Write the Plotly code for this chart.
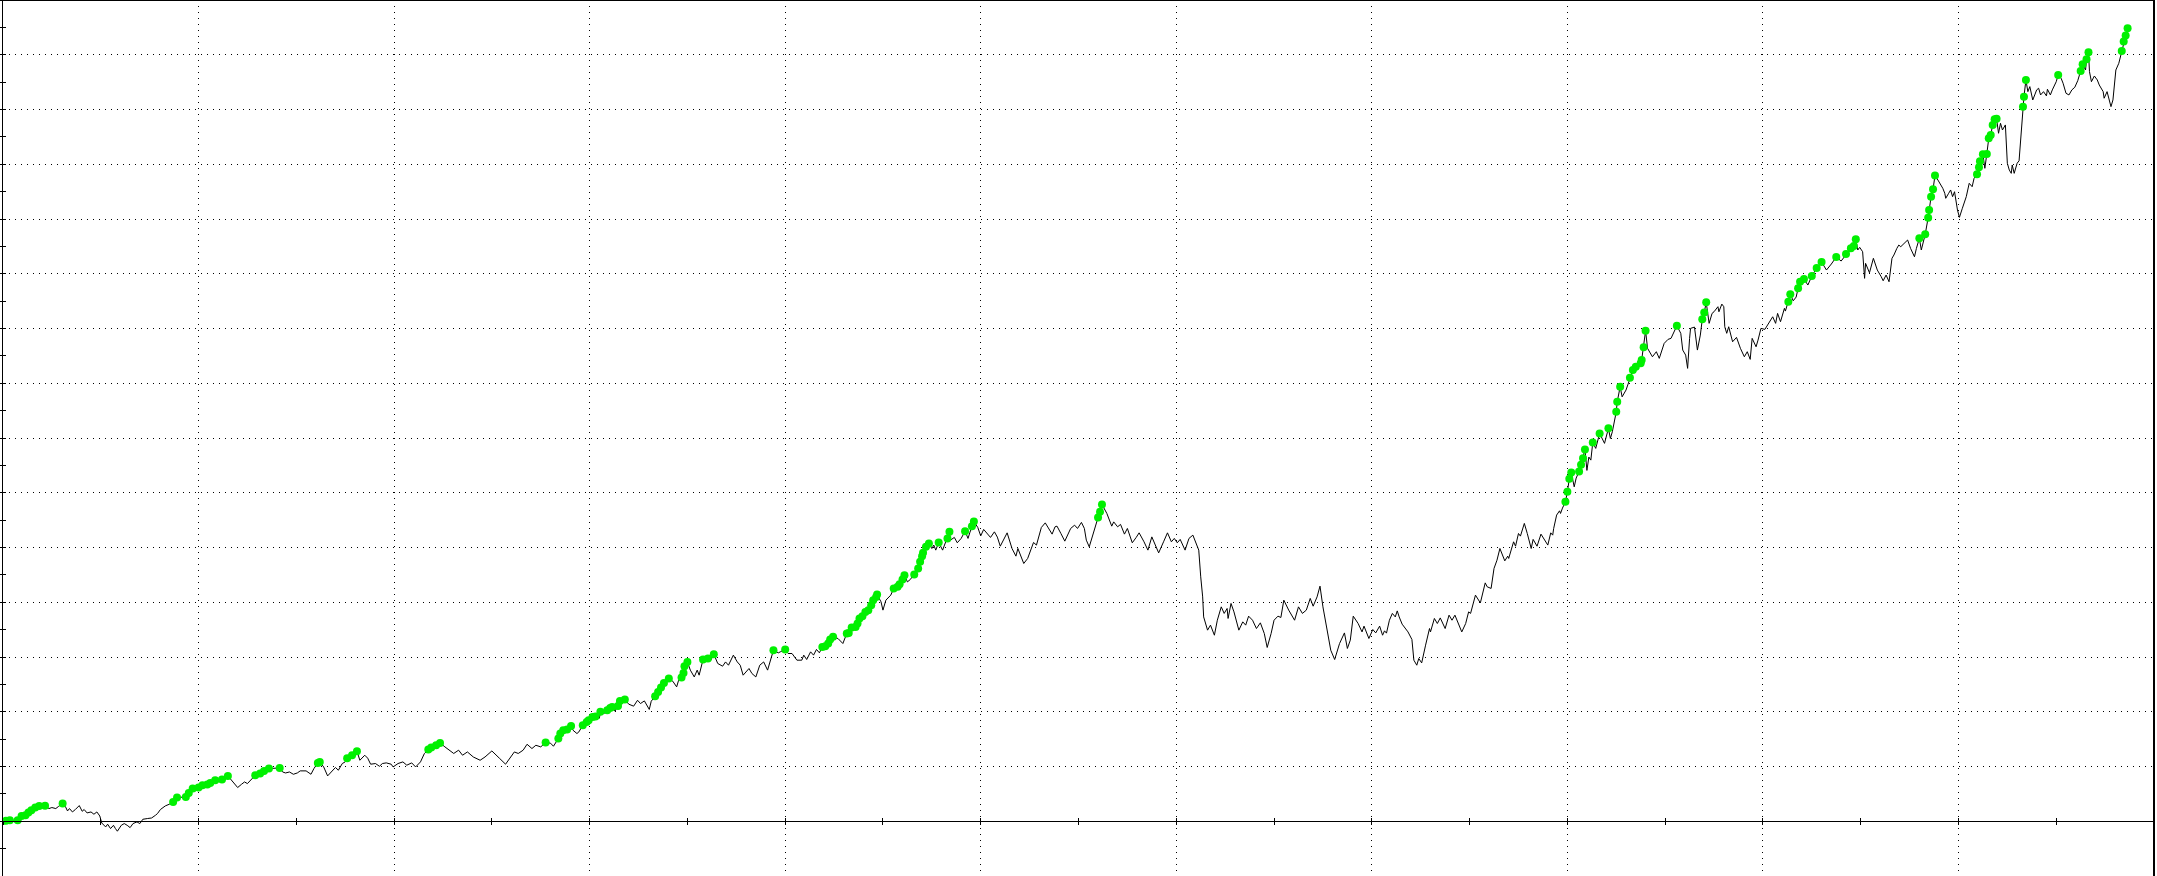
import plotly.graph_objects as go

# Strategy tester balance graph: trade number vs profit over the initial deposit.
# Values; grid = 200 trades x 50 profit units.

trades_a = [0, 3, 7, 15, 19, 23, 26, 29, 33, 37, 43, 47, 50, 54, 57, 61, 64, 66, 68, 71,
            74, 78, 81, 83, 86, 90, 93, 96, 99, 101, 105, 107, 110, 113, 115, 117, 121, 124, 127, 130,
            133, 137, 140, 143, 148, 152, 156, 158, 161, 166, 170, 174, 178, 183, 187, 190, 194, 197, 200, 204,
            209, 212, 217, 221, 224, 230, 233, 236, 240, 244, 247, 250, 255, 258, 263, 267, 272, 283, 286, 289,
            293, 297, 301, 304, 310, 315, 318, 322, 324, 328, 332, 337, 340, 343, 347, 350]
profit_a = [0, 0.4, 0.8, 1.0, 4.8, 5.5, 7.9, 10.0, 12.5, 14.0, 14.2, 11.6, 12.5, 11.6, 13.7, 16.2, 13.1, 9.4, 11.6, 8.5,
            10.7, 14.3, 9.1, 10.7, 7.6, 8.5, 6.4, 8.5, 4.8, -1.6, -5.2, -2.7, -6.7, -3.7, -6.7, -9.1, -3.7, -2.1, -3.7, -5.8,
            -2.1, -0.6, -2.1, 1.8, 2.5, 3.0, 5.5, 7.0, 10.7, 14.0, 15.5, 17.6, 21.7, 21.7, 22.2, 25.9, 29.9, 27.7, 30.8, 32.9,
            33.5, 35.0, 37.5, 35.9, 38.1, 41.4, 38.1, 34.4, 30.8, 33.8, 35.9, 34.4, 39.0, 42.0, 43.6, 46.0, 48.1, 48.7, 45.0, 44.1,
            45.0, 42.9, 44.1, 46.0, 46.0, 42.9, 48.1, 53.3, 54.2, 49.6, 41.4, 46.6, 49.1, 46.6, 52.7, 54.2]

trades_b = [352, 357, 362, 365, 370, 373, 376, 381, 385, 388, 392, 397, 399, 404, 409, 413, 418, 422, 427, 431,
            435, 438, 443, 447, 452, 456, 461, 466, 470, 475, 481, 488, 493, 500, 503, 508, 514, 518, 523, 527,
            532, 536, 541, 545, 550, 555]
profit_b = [57.6, 60.3, 64.0, 55.7, 60.3, 57.6, 52.1, 52.7, 50.2, 52.7, 53.3, 52.1, 49.6, 52.7, 54.2, 51.2, 53.3, 49.6, 54.2, 61.9,
            65.5, 67.3, 69.4, 71.5, 67.9, 64.9, 61.9, 64.9, 60.3, 63.3, 58.7, 55.7, 58.7, 64.2, 61.9, 57.3, 52.1, 57.3, 63.3, 61.9,
            64.9, 70.3, 66.4, 69.4, 67.9, 72.0]

trades_c = [560, 563, 568, 570, 573, 577, 581, 583, 587, 589, 593, 597, 599, 603, 606, 610, 611, 615, 618, 621,
            623, 626, 629, 631, 636, 640, 645, 649, 652, 656, 661, 663, 667, 670, 673, 676, 681, 685, 689, 691,
            694, 696, 697, 700, 703, 707, 710, 712, 716, 721, 724, 727, 731, 736, 739, 742, 747, 751, 754, 757,
            763, 766, 770, 774, 778, 782, 788, 793, 795, 800, 803, 807, 812, 817, 819, 822, 826, 829, 832, 835,
            838, 841, 844, 846, 849, 854, 859, 863, 865, 868, 870, 872, 874, 876, 879, 882, 885, 888, 890, 893,
            894, 898, 900, 903, 908, 911, 915, 917, 920, 922, 925, 928, 932, 936, 938, 940, 941, 944, 947, 950,
            952, 954, 957, 961, 963, 966, 968, 969, 973, 976, 980, 984, 987, 989, 991, 993, 997, 1000, 1003, 1006,
            1010, 1014, 1017]
profit_c = [71.3, 68.5, 75.6, 80.1, 83.1, 83.8, 87.1, 83.1, 80.1, 81.6, 87.7, 90.7, 92.3, 95.3, 95.6, 94.1, 99.9, 98.4, 101.4, 103.5,
            104.4, 100.5, 105.3, 109.9, 111.2, 106.9, 105.1, 110.5, 107.5, 109.9, 102.1, 109.6, 114.2, 118.1, 122.1, 126.3, 130.4, 127.9, 122.7, 128.8,
            131.3, 135.5, 141.6, 145.5, 138.0, 131.8, 138.0, 133.4, 147.7, 148.6, 147.1, 152.6, 144.1, 141.6, 145.5, 142.5, 151.7, 145.5, 142.5, 133.4,
            139.5, 134.9, 131.8, 142.5, 145.5, 138.0, 156.2, 153.8, 154.7, 156.9, 153.2, 153.2, 147.1, 147.1, 151.7, 147.7, 154.7, 151.7, 156.9, 153.8,
            159.2, 159.9, 162.3, 166.0, 168.4, 166.9, 162.3, 171.5, 172.0, 177.0, 176.3, 177.5, 180.6, 185.2, 187.3, 191.2, 192.8, 197.3, 201.9, 204.9,
            207.1, 200.4, 192.8, 201.9, 206.5, 212.6, 214.1, 216.5, 220.8, 224.7, 218.6, 220.8, 225.4, 230.9, 236.9, 242.1, 245.1, 250.6, 253.7, 249.1,
            252.2, 247.6, 254.6, 247.6, 252.2, 258.3, 264.3, 256.7, 259.2, 254.3, 258.3, 264.9, 258.3, 264.0, 269.5, 273.8, 268.3, 260.6, 266.5, 263.1,
            259.2, 264.3, 259.5]

trades_d = [1020, 1024, 1027, 1032, 1036, 1038, 1041, 1044, 1048, 1051, 1054, 1057, 1062, 1066, 1073, 1076, 1078, 1082, 1086, 1092,
            1096, 1099, 1103, 1106, 1108, 1111, 1116, 1118, 1120, 1122, 1124, 1129, 1134, 1136, 1140, 1143, 1147, 1150, 1155, 1159,
            1162, 1167, 1171, 1175, 1179, 1182, 1187, 1191, 1195, 1198, 1201, 1204, 1209, 1213, 1217, 1220, 1223, 1225, 1227, 1228,
            1232, 1235, 1239, 1242, 1246, 1249, 1252, 1253, 1256, 1259, 1264, 1268, 1271, 1274, 1278, 1282, 1286, 1290, 1293, 1297,
            1300, 1304, 1307, 1310, 1315, 1321, 1325, 1329, 1333, 1337, 1340, 1344, 1347, 1350, 1355, 1358, 1362, 1367, 1372, 1375,
            1378, 1381, 1386, 1390, 1392, 1397, 1401, 1404, 1408]
profit_d = [251.2, 258.5, 263.4, 249.1, 242.1, 249.1, 241.5, 235.4, 240.0, 248.2, 254.6, 252.2, 268.3, 272.5, 262.2, 268.9, 269.5, 262.8, 255.8, 267.4,
            270.4, 267.4, 272.9, 267.4, 256.7, 250.6, 265.9, 272.5, 277.5, 282.6, 289.3, 281.1, 269.5, 273.4, 268.9, 271.1, 262.2, 267.4, 254.3, 259.2,
            263.4, 255.2, 247.6, 259.7, 250.6, 245.1, 255.2, 263.4, 255.2, 258.3, 254.3, 257.4, 247.6, 258.3, 261.3, 255.2, 247.6, 223.2, 204.9, 186.6,
            174.5, 179.1, 169.9, 183.6, 195.8, 189.8, 194.3, 185.2, 198.9, 191.2, 174.5, 182.1, 179.1, 187.3, 183.6, 176.0, 181.2, 171.5, 158.7, 171.5,
            183.6, 187.3, 186.1, 201.9, 192.8, 183.6, 195.8, 189.8, 192.8, 203.5, 196.4, 204.9, 214.7, 195.8, 171.5, 156.2, 147.7, 162.3, 172.0, 157.8,
            165.4, 187.3, 180.6, 172.9, 178.2, 166.9, 175.1, 172.0, 178.2]

trades_e = [1411, 1413, 1415, 1418, 1421, 1424, 1426, 1428, 1431, 1437, 1441, 1443, 1446, 1448, 1451, 1455, 1459, 1460, 1464, 1467,
            1470, 1475, 1479, 1482, 1485, 1492, 1496, 1499, 1501, 1506, 1511, 1516, 1518, 1522, 1525, 1528, 1531, 1536, 1539, 1540,
            1545, 1547, 1550, 1552, 1556, 1559, 1563, 1565, 1569, 1573, 1580, 1583, 1585, 1586, 1589, 1592, 1593, 1595]
profit_e = [169.9, 173.9, 171.8, 183.6, 189.8, 186.6, 192.1, 186.6, 180.0, 172.9, 166.0, 147.1, 142.5, 148.6, 144.6, 160.8, 176.0, 172.9, 185.2, 180.6,
            185.7, 176.0, 188.2, 183.6, 188.2, 172.9, 180.6, 191.2, 189.8, 206.5, 199.4, 217.7, 214.1, 212.6, 230.9, 238.4, 249.1, 237.8, 242.1, 240.0,
            255.2, 251.2, 262.8, 260.4, 272.0, 262.8, 249.1, 257.4, 251.2, 262.2, 252.2, 263.4, 261.3, 267.4, 279.6, 283.5, 281.1, 286.0]

trades_f = [1598, 1600, 1602, 1604, 1607, 1609, 1612, 1614, 1616, 1618, 1620, 1622, 1624, 1626, 1629, 1633, 1638, 1642, 1644, 1646,
            1650, 1651, 1654, 1656, 1660, 1664, 1667, 1670, 1675, 1676, 1678, 1680, 1682, 1687, 1691, 1694, 1699, 1703, 1706, 1710,
            1712, 1716, 1718, 1721, 1723, 1725, 1726, 1730, 1733, 1736, 1738, 1740, 1742, 1745, 1748, 1750, 1754, 1755, 1758, 1760,
            1761, 1763, 1765, 1769, 1773, 1777, 1781, 1784, 1787, 1789, 1793, 1795, 1798, 1802, 1805, 1808, 1810, 1813, 1815, 1818,
            1822, 1823, 1826, 1828, 1831, 1834, 1836, 1838]
profit_f = [291.7, 300.8, 312.7, 318.4, 305.4, 313.4, 319.5, 325.5, 331.4, 339.6, 320.4, 332.6, 329.8, 345.8, 340.5, 354.2, 345.1, 358.8, 349.6, 355.7,
            373.9, 383.1, 396.8, 387.6, 393.8, 405.0, 412.0, 415.0, 418.2, 421.2, 432.8, 447.9, 431.9, 424.2, 428.8, 422.7, 436.4, 440.1, 441.0, 447.7,
            452.5, 445.6, 430.3, 425.7, 413.6, 441.0, 450.1, 451.3, 430.3, 444.0, 458.4, 464.7, 473.9, 454.7, 463.8, 465.3, 469.9, 465.3, 472.3, 469.9,
            451.6, 445.6, 451.6, 437.9, 441.9, 431.9, 424.2, 428.8, 421.8, 441.0, 433.3, 439.4, 450.1, 449.2, 453.1, 457.7, 460.7, 454.7, 463.8, 456.2,
            468.4, 465.9, 474.4, 481.2, 475.3, 478.7, 486.7, 492.7]

trades_g = [1842, 1846, 1850, 1855, 1860, 1865, 1870, 1875, 1880, 1885, 1890, 1893, 1895, 1897, 1899, 1902, 1904, 1905, 1909, 1913,
            1917, 1921, 1923, 1926, 1929, 1932, 1934, 1937, 1939, 1941, 1944, 1948, 1951, 1955, 1957, 1960, 1962, 1966, 1969, 1970,
            1972, 1974, 1976, 1979, 1984, 1986, 1987, 1990, 1992, 1994, 1996, 1999, 2001, 2004, 2008, 2011, 2014, 2016, 2019, 2021,
            2022, 2025, 2027, 2029, 2031, 2033, 2035, 2037, 2039, 2041, 2043, 2045, 2048, 2050, 2052, 2054, 2055, 2057, 2060, 2062,
            2064, 2066, 2067, 2069, 2071, 2073, 2076, 2078, 2080, 2082, 2084, 2087, 2090, 2091, 2094, 2096, 2100, 2102, 2105, 2107,
            2110, 2113, 2116, 2119, 2122, 2125, 2127, 2130, 2131, 2133, 2134, 2136, 2139, 2142, 2144, 2148, 2149, 2152, 2154, 2156,
            2158, 2160, 2161, 2164, 2167, 2169, 2171, 2173]
profit_g = [495.2, 489.7, 497.9, 505.2, 510.7, 503.4, 508.9, 515.3, 511.6, 518.0, 523.2, 525.3, 531.4, 521.7, 524.1, 520.1, 495.8, 509.5, 500.9, 514.1,
            503.4, 497.3, 493.6, 498.8, 492.7, 514.1, 517.1, 523.2, 526.2, 524.7, 527.1, 530.8, 523.2, 515.5, 523.2, 532.4, 521.7, 536.0, 551.2, 558.2,
            570.4, 577.1, 589.7, 585.6, 578.0, 573.5, 568.9, 573.5, 576.5, 570.4, 574.9, 558.2, 551.5, 559.8, 570.4, 582.6, 579.5, 587.2, 590.9, 597.2,
            602.7, 609.1, 596.3, 609.4, 623.7, 626.7, 635.9, 641.1, 641.5, 628.3, 637.4, 631.3, 635.9, 600.9, 594.7, 591.7, 599.3, 591.7, 600.9, 603.2,
            628.3, 652.6, 661.7, 677.0, 666.3, 670.9, 658.7, 663.3, 667.9, 669.4, 663.3, 666.3, 662.4, 668.5, 663.3, 667.9, 675.4, 681.5, 678.5, 674.0,
            664.8, 663.3, 667.9, 670.3, 676.3, 685.2, 691.3, 686.1, 695.9, 702.3, 684.6, 675.4, 680.6, 677.0, 672.4, 666.3, 660.3, 666.3, 658.7, 652.6,
            658.7, 677.0, 686.1, 692.2, 703.5, 712.0, 717.5, 724.2]

segments = [(trades_a, profit_a), (trades_b, profit_b), (trades_c, profit_c), (trades_d, profit_d),
            (trades_e, profit_e), (trades_f, profit_f), (trades_g, profit_g)]

trades, profit = [], []
for t, p in segments:
    assert len(t) == len(p), (t[0], len(t), len(p))
    trades += t
    profit += p
assert all(b > a for a, b in zip(trades, trades[1:]))

# green dot on every new balance high
high_x, high_y = [], []
best = profit[0]
for t, p in zip(trades, profit):
    if p > best:
        high_x.append(t)
        high_y.append(p)
        best = p

X_RANGE = [0, 2200]
Y_RANGE = [-50, 750]
GRID_DASH = "1px,5px"
zero_pos = (0 - Y_RANGE[0]) / (Y_RANGE[1] - Y_RANGE[0])

fig = go.Figure()
fig.add_trace(go.Scatter(
    x=trades, y=profit,
    mode="lines",
    line=dict(color="black", width=1),
    hoverinfo="skip",
))
fig.add_trace(go.Scatter(
    x=high_x, y=high_y,
    mode="markers",
    marker=dict(size=8, color="#00f000", line=dict(width=0)),
    xaxis="x2", yaxis="y2",
    hoverinfo="skip",
))

axis_common = dict(showticklabels=False, zeroline=False, tickcolor="black")

fig.update_layout(
    width=2157,
    height=876,
    margin=dict(l=3, r=3, t=0, b=0, pad=0),
    plot_bgcolor="white",
    paper_bgcolor="white",
    showlegend=False,
    xaxis=dict(
        range=X_RANGE, tick0=0, dtick=200,
        showgrid=True, gridcolor="black", gridwidth=1, griddash=GRID_DASH,
        showline=True, linecolor="black", linewidth=1,
        ticks="outside", ticklen=3,
        minor=dict(tick0=0, dtick=100, ticks="outside", ticklen=3, tickcolor="black", showgrid=False),
        anchor="free", position=zero_pos,
        **axis_common,
    ),
    yaxis=dict(
        range=Y_RANGE, tick0=0, dtick=50,
        showgrid=True, gridcolor="black", gridwidth=1, griddash=GRID_DASH,
        showline=True, linecolor="black", linewidth=1,
        ticks="outside", ticklen=3,
        minor=dict(tick0=0, dtick=25, ticks="outside", ticklen=3, tickcolor="black", showgrid=False),
        **axis_common,
    ),
    xaxis2=dict(
        range=X_RANGE, tick0=0, dtick=200, overlaying="x",
        showgrid=False, showline=False,
        ticks="inside", ticklen=3,
        minor=dict(tick0=0, dtick=100, ticks="inside", ticklen=3, tickcolor="black", showgrid=False),
        anchor="free", position=zero_pos,
        **axis_common,
    ),
    yaxis2=dict(
        range=Y_RANGE, tick0=0, dtick=50, overlaying="y", anchor="x2",
        showgrid=False, showline=False,
        ticks="inside", ticklen=3,
        minor=dict(tick0=0, dtick=25, ticks="inside", ticklen=3, tickcolor="black", showgrid=False),
        **axis_common,
    ),
    shapes=[
        dict(type="line", xref="paper", yref="paper", x0=0, x1=1, y0=1, y1=1,
             line=dict(color="black", width=2)),
        dict(type="line", xref="paper", yref="paper", x0=1, x1=1, y0=0, y1=1,
             line=dict(color="black", width=2)),
    ],
)

fig.write_html(
    "out.html",
    config={"displayModeBar": False},
    post_script="document.body.style.margin='0';document.body.style.overflow='hidden';",
)
